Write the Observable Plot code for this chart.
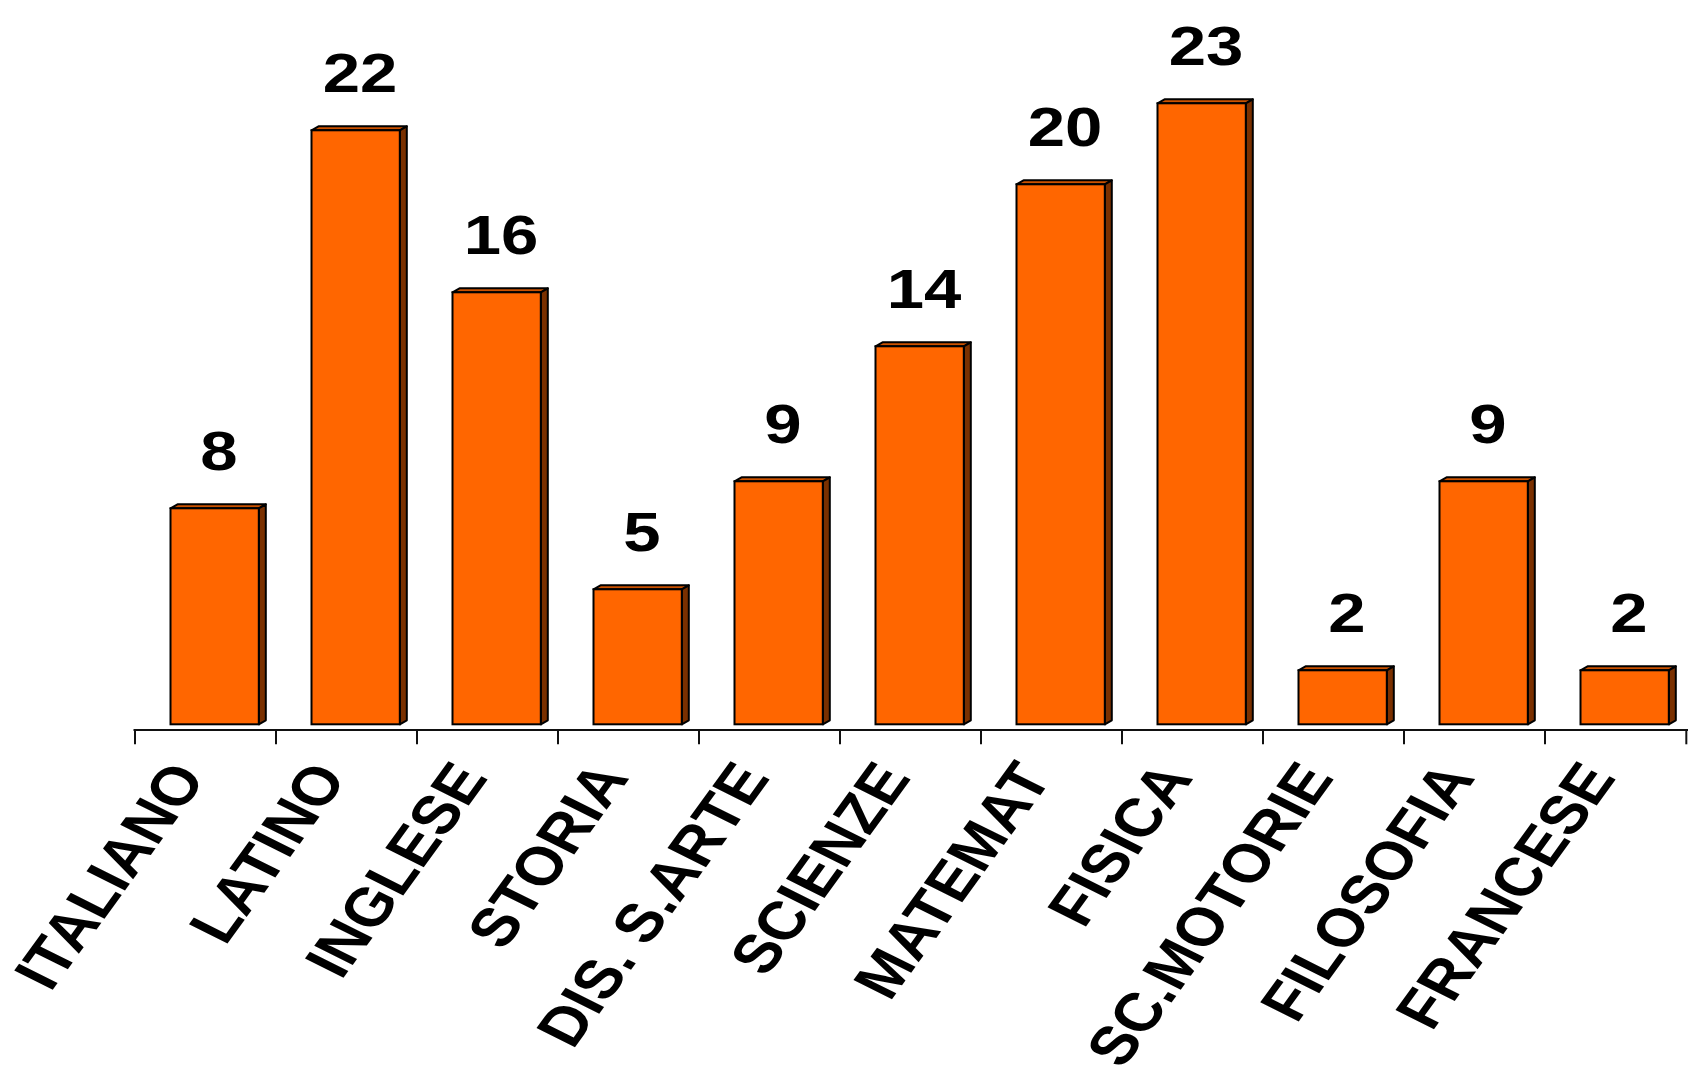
<!DOCTYPE html>
<html><head><meta charset="utf-8">
<script src="https://cdn.jsdelivr.net/npm/d3@7"></script>
<script src="https://cdn.jsdelivr.net/npm/@observablehq/plot@0.6"></script>
<style>body{margin:0;background:#fff;} svg{display:block;}</style>
</head><body><div id="chart"></div>
<script>
const subjects = ["ITALIANO","LATINO","INGLESE","STORIA","DIS. S.ARTE","SCIENZE","MATEMAT","FISICA","SC.MOTORIE","FILOSOFIA","FRANCESE"];
const counts = [8,22,16,5,9,14,20,23,2,9,2];
const data = subjects.map((s,i)=>({subject:s, count:counts[i]}));

const W = 1698, H = 1068;
const DEPTH_X = 7, DEPTH_Y = 4;
const plot = Plot.plot({
  width: W, height: H,
  marginLeft: 133.5, marginRight: 10, marginTop: 49.3, marginBottom: 343.7,
  x: {domain: subjects, padding: 0, axis: null},
  y: {domain: [0, 25], axis: null},
  style: {background: "#fff", fontFamily: "Arial, 'Liberation Sans', sans-serif", overflow: "visible"},
  marks: [
    Plot.ruleY([0], {dy: 5.2, stroke: "#111", strokeWidth: 2}),
    Plot.barY(data, {x: "subject", y: "count", fill: "#FF6600", stroke: "#000", strokeWidth: 2, insetLeft: 35.5, insetRight: 17.2}),
    Plot.text(data, {x: "subject", y: "count", text: d => String(d.count), dx: 13, dy: -56, fontSize: 55, fontWeight: "bold", fill: "#000", lineAnchor: "middle"}),
    Plot.text(data, {x: "subject", y: 0, text: "subject", dx: -17, dy: 44, rotate: -59, textAnchor: "end", lineAnchor: "middle", fontSize: 54, fontWeight: "bold", fill: "#000"})
  ]
});
document.getElementById("chart").appendChild(plot);

const svg = d3.select(plot.tagName.toLowerCase() === "svg" ? plot : plot.querySelector("svg"));

// 3D faces for each bar, derived from the bars Plot drew
const faces = svg.insert("g", 'g[aria-label="bar"]');
svg.select('g[aria-label="bar"]').selectAll("rect").each(function() {
  const r = d3.select(this);
  const x = +r.attr("x"), y = +r.attr("y"), w = +r.attr("width"), h = +r.attr("height");
  faces.append("polygon")
    .attr("points", [[x, y], [x + DEPTH_X, y - DEPTH_Y], [x + w + DEPTH_X, y - DEPTH_Y], [x + w, y]].map(p => p.join(",")).join(" "))
    .attr("fill", "#CC5200").attr("stroke", "#000").attr("stroke-width", 2).attr("stroke-linejoin", "round");
  faces.append("polygon")
    .attr("points", [[x + w, y], [x + w + DEPTH_X, y - DEPTH_Y], [x + w + DEPTH_X, y + h - DEPTH_Y], [x + w, y + h]].map(p => p.join(",")).join(" "))
    .attr("fill", "#7A3000").attr("stroke", "#000").attr("stroke-width", 2).attr("stroke-linejoin", "round");
});

// tick marks at band boundaries
const xs = plot.scale("x"), ys = plot.scale("y");
const step = (xs.range[1] - xs.range[0]) / subjects.length;
const y0 = ys.apply(0);
const bounds = subjects.map(s => xs.apply(s)).concat([xs.apply(subjects[subjects.length - 1]) + step]);
const tg = svg.append("g");
bounds.forEach(b => {
  tg.append("line").attr("x1", b).attr("x2", b).attr("y1", y0 + 5.2).attr("y2", y0 + 20)
    .attr("stroke", "#111").attr("stroke-width", 2);
});

// horizontal stretch of the text like the reference
function addScale(t, sx) {
  let tr = t.getAttribute("transform") || "";
  if (/rotate\(/.test(tr)) tr = tr.replace(/rotate\(/, `scale(${sx},1) rotate(`);
  else tr = tr + ` scale(${sx},1)`;
  t.setAttribute("transform", tr);
}
const textGroups = plot.querySelectorAll('g[aria-label="text"]');
textGroups[0].querySelectorAll("text").forEach(t => addScale(t, 1.22));
textGroups[1].querySelectorAll("text").forEach(t => addScale(t, 1.21));
</script>
</body></html>
